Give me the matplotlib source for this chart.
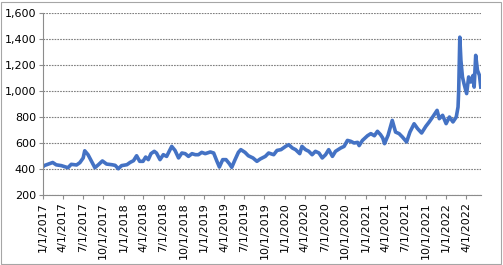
import matplotlib
matplotlib.use('Agg')
import matplotlib.pyplot as plt
import pandas as pd
from matplotlib.patches import Rectangle
from matplotlib.ticker import FuncFormatter

# values (approximate)
dates = [
    '2017-01-01', '2017-01-03', '2017-02-14', '2017-03-02', '2017-03-25', '2017-04-24',
    '2017-05-09', '2017-06-02', '2017-06-17', '2017-07-02', '2017-07-09', '2017-07-24',
    '2017-08-09', '2017-08-24', '2017-09-09', '2017-09-27', '2017-10-16', '2017-11-09',
    '2017-11-24', '2017-12-08', '2017-12-23', '2018-01-16', '2018-01-31', '2018-02-15',
    '2018-03-01', '2018-03-15', '2018-03-30', '2018-04-11', '2018-04-23', '2018-05-05',
    '2018-05-20', '2018-05-30', '2018-06-15', '2018-06-30', '2018-07-15', '2018-08-07',
    '2018-08-22', '2018-09-07', '2018-09-22', '2018-10-07', '2018-10-22', '2018-11-07',
    '2018-11-22', '2018-12-06', '2018-12-21', '2019-01-06', '2019-01-29', '2019-02-13',
    '2019-02-28', '2019-03-11', '2019-03-26', '2019-04-10', '2019-04-25', '2019-05-06',
    '2019-05-21', '2019-06-05', '2019-06-16', '2019-07-05', '2019-07-20', '2019-08-10',
    '2019-08-28', '2019-09-12', '2019-10-05', '2019-10-20', '2019-11-12', '2019-11-27',
    '2019-12-15', '2020-01-05', '2020-01-19', '2020-02-05', '2020-02-19', '2020-03-09',
    '2020-03-19', '2020-04-04', '2020-04-19', '2020-05-04', '2020-05-19', '2020-06-04',
    '2020-06-19', '2020-07-04', '2020-07-18', '2020-08-04', '2020-08-18', '2020-09-11',
    '2020-09-26', '2020-10-11', '2020-10-26', '2020-11-10', '2020-11-26', '2020-12-03',
    '2020-12-18', '2021-01-10', '2021-01-25', '2021-02-10', '2021-02-24', '2021-03-10',
    '2021-03-20', '2021-03-28', '2021-04-13', '2021-05-02', '2021-05-17', '2021-06-02',
    '2021-06-17', '2021-07-06', '2021-07-21', '2021-08-09', '2021-08-25', '2021-09-12',
    '2021-10-01', '2021-10-16', '2021-11-01', '2021-11-21', '2021-12-01', '2021-12-16',
    '2022-01-01', '2022-01-16', '2022-02-01', '2022-02-16', '2022-02-24', '2022-02-27',
    '2022-03-04', '2022-03-09', '2022-03-16', '2022-03-23', '2022-04-04', '2022-04-13',
    '2022-04-23', '2022-05-03', '2022-05-08', '2022-05-15', '2022-05-23', '2022-06-01',
    '2022-06-07',
]
prices = [
    418, 424, 450, 432, 426, 410,
    436, 431, 449, 485, 540, 510,
    459, 410, 433, 462, 438, 433,
    428, 402, 426, 433, 451, 464,
    502, 459, 459, 492, 472, 518,
    536, 523, 472, 510, 497, 574,
    543, 485, 523, 518, 497, 518,
    510, 510, 528, 518, 531, 523,
    459, 415, 472, 472, 441, 413,
    472, 528, 549, 528, 502, 485,
    459, 477, 497, 523, 510, 543,
    549, 574, 587, 561, 549, 518,
    574, 549, 536, 510, 536, 523,
    485, 510, 549, 497, 536, 562,
    574, 620, 613, 600, 605, 580,
    620, 656, 672, 656, 690, 664,
    638, 595, 659, 774, 684, 672,
    646, 608, 684, 748, 710, 677,
    728, 761, 800, 851, 787, 813,
    749, 800, 762, 800, 877, 1005,
    1414, 1236, 1108, 1056, 980, 1108,
    1069, 1120, 1030, 1274, 1159, 1120,
    1030,
]

x = pd.to_datetime(dates)
tick_dates = pd.date_range('2017-01-01', '2022-04-01', freq='3MS')
tick_labels = [f'{d.month}/{d.day}/{d.year}' for d in tick_dates]

fig = plt.figure(figsize=(5.03, 2.65), dpi=100)
ax = fig.add_axes([43 / 503, 1 - 195 / 265, 438 / 503, 182 / 265])

ax.plot(x, prices, color='#4472C4', linewidth=2.6, solid_joinstyle='round')

ax.set_ylim(200, 1600)
ax.set_yticks(range(200, 1601, 200))
ax.yaxis.set_major_formatter(FuncFormatter(lambda v, p: f'{int(v):,}'))
ax.set_xlim(pd.Timestamp('2017-01-01'), pd.Timestamp('2022-06-08'))
ax.set_xticks(tick_dates)
ax.set_xticklabels(tick_labels, rotation=90)

ax.grid(axis='y', color='#7f7f7f', linestyle=(0, (1.5, 1)), linewidth=0.8)
ax.set_axisbelow(True)
for s in ['top', 'right']:
    ax.spines[s].set_visible(False)
for s in ['left', 'bottom']:
    ax.spines[s].set_color('#8c8c8c')
    ax.spines[s].set_linewidth(0.8)
ax.tick_params(axis='both', direction='out', length=3, color='#8c8c8c',
               labelsize=8, pad=2)

# chart area border
fig.patches.append(Rectangle((0.002, 0.004), 0.994, 0.99, transform=fig.transFigure,
                             fill=False, edgecolor='#a6a6a6', linewidth=0.8))

plt.savefig('out.png', dpi=100)
